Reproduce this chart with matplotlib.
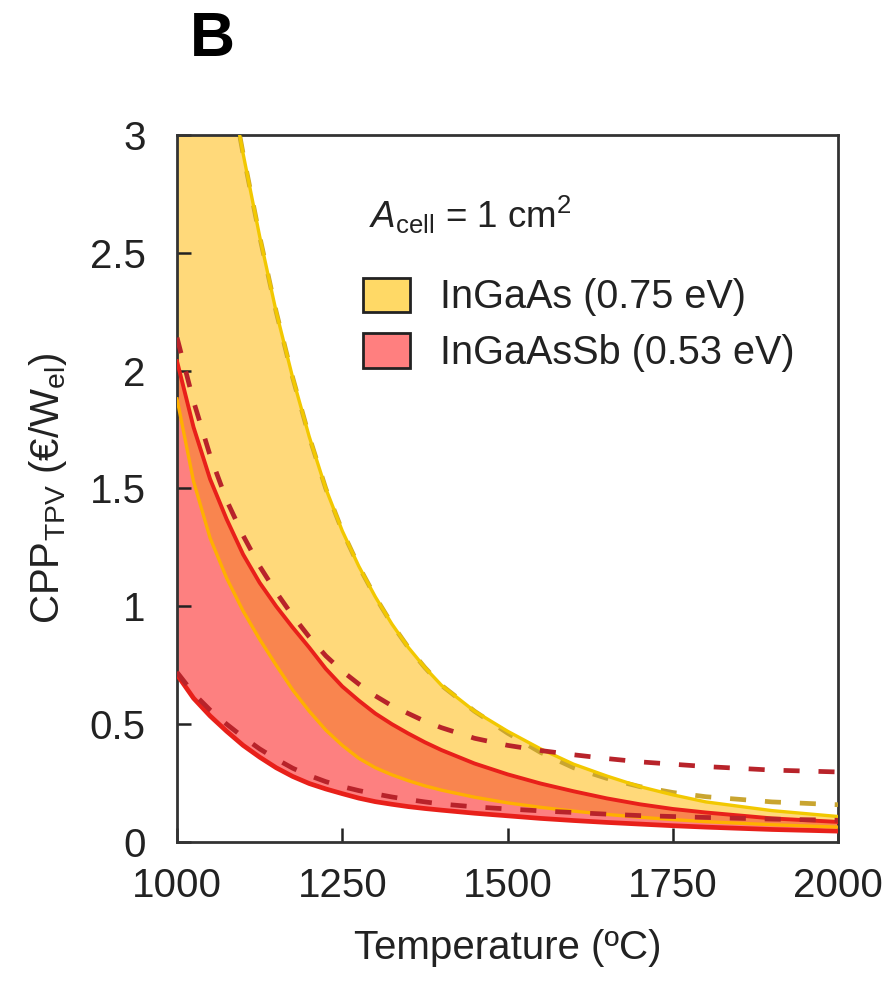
import numpy as np
import matplotlib
matplotlib.use("Agg")
import matplotlib.pyplot as plt
from matplotlib.patches import Patch

plt.rcParams['font.family'] = ['Liberation Sans', 'DejaVu Sans']
plt.rcParams['mathtext.fontset'] = 'custom'
plt.rcParams['mathtext.rm'] = 'Liberation Sans'
plt.rcParams['mathtext.it'] = 'Liberation Sans:italic'

# ---- data ----
temperature = [1000, 1025, 1050, 1075, 1100, 1125, 1150, 1175, 1200, 1225,
               1250, 1275, 1300, 1325, 1350, 1375, 1400, 1450, 1500, 1550,
               1600, 1650, 1700, 1750, 1800, 1900, 2000]

ingaas_upper = [5.0, 4.35, 3.8, 3.3, 2.92, 2.57, 2.25, 1.97, 1.72, 1.50,
                1.32, 1.17, 1.04, 0.925, 0.825, 0.74, 0.665, 0.555, 0.47, 0.395,
                0.33, 0.28, 0.235, 0.20, 0.17, 0.133, 0.108]
ingaas_lower = [1.88, 1.53, 1.29, 1.12, 0.98, 0.86, 0.75, 0.645, 0.555, 0.475,
                0.41, 0.355, 0.315, 0.285, 0.26, 0.238, 0.22, 0.19, 0.166, 0.147,
                0.131, 0.117, 0.105, 0.095, 0.086, 0.073, 0.063]
ingaas_dashed = [5.0, 4.35, 3.8, 3.3, 2.92, 2.57, 2.25, 1.97, 1.72, 1.50,
                 1.32, 1.17, 1.04, 0.925, 0.825, 0.74, 0.665, 0.555, 0.462, 0.38,
                 0.315, 0.27, 0.235, 0.21, 0.192, 0.17, 0.158]

ingaassb_upper = [2.04, 1.76, 1.54, 1.37, 1.22, 1.10, 1.0, 0.91, 0.825, 0.735,
                  0.66, 0.60, 0.545, 0.50, 0.46, 0.423, 0.39, 0.333, 0.287, 0.248,
                  0.215, 0.185, 0.16, 0.14, 0.125, 0.10, 0.085]
ingaassb_lower = [0.71, 0.61, 0.535, 0.47, 0.41, 0.36, 0.315, 0.278, 0.248, 0.225,
                  0.205, 0.186, 0.171, 0.16, 0.15, 0.142, 0.135, 0.122, 0.111, 0.10,
                  0.091, 0.083, 0.076, 0.069, 0.063, 0.053, 0.046]
ingaassb_dashed_upper = [2.14, 1.87, 1.64, 1.45, 1.30, 1.17, 1.06, 0.96, 0.87, 0.79,
                         0.725, 0.67, 0.62, 0.578, 0.545, 0.512, 0.485, 0.44, 0.41, 0.388,
                         0.37, 0.354, 0.34, 0.33, 0.32, 0.305, 0.297]
ingaassb_dashed_lower = [0.72, 0.63, 0.56, 0.50, 0.445, 0.395, 0.352, 0.313, 0.282, 0.256,
                         0.235, 0.218, 0.204, 0.191, 0.18, 0.17, 0.161, 0.149, 0.14, 0.132,
                         0.125, 0.118, 0.112, 0.108, 0.104, 0.097, 0.092]

legend_labels = ['InGaAs (0.75 eV)', 'InGaAsSb (0.53 eV)']
x_ticks = [1000, 1250, 1500, 1750, 2000]
y_ticks = [0, 0.5, 1, 1.5, 2, 2.5, 3]
y_tick_labels = ['0', '0.5', '1', '1.5', '2', '2.5', '3']

# ---- colours ----
c_yellow_fill = '#FFD97A'
c_pink_fill = '#FD8080'
c_overlap_fill = '#F9854F'
c_yellow_line = '#F2C800'
c_orange_line = '#FFB000'
c_red_line = '#E8201A'
c_red_dash = '#B8232A'
c_yellow_dash = '#C9A530'

T = np.array(temperature)
ya_u = np.array(ingaas_upper)
ya_l = np.array(ingaas_lower)
yb_u = np.array(ingaassb_upper)
yb_l = np.array(ingaassb_lower)

fig = plt.figure(figsize=(8.94, 9.82), dpi=100)
ax = fig.add_axes([0.198, 0.1426, 0.7394, 0.720])

ax.fill_between(T, yb_l, yb_u, color=c_pink_fill, lw=0, zorder=1)
ax.fill_between(T, ya_l, ya_u, color=c_yellow_fill, lw=0, zorder=1)
ov_lo = np.maximum(ya_l, yb_l)
ov_hi = np.minimum(ya_u, yb_u)
ax.fill_between(T, ov_lo, ov_hi, where=ov_hi > ov_lo, interpolate=True,
                color=c_overlap_fill, lw=0, zorder=2)

dash = (0, (3.4, 4.0))
ax.plot(T, ingaas_dashed, color=c_yellow_dash, lw=3.4, ls=dash, zorder=3)
ax.plot(T, yb_l, color=c_red_line, lw=3.4, zorder=4)
ax.plot(T, yb_u, color=c_red_line, lw=2.8, zorder=4)
ax.plot(T, ya_l, color=c_orange_line, lw=2.4, zorder=4)
ax.plot(T, ya_u, color=c_yellow_line, lw=2.4, zorder=4)
ax.plot(T, ingaassb_dashed_upper, color=c_red_dash, lw=3.4, ls=dash, zorder=5)
ax.plot(T, ingaassb_dashed_lower, color=c_red_dash, lw=3.4, ls=dash, zorder=5)

ax.set_xlim(1000, 2000)
ax.set_ylim(0, 3)
ax.set_xticks(x_ticks)
ax.set_yticks(y_ticks)
ax.set_yticklabels(y_tick_labels)
ax.tick_params(direction='in', length=10, width=1.8, labelsize=29,
               colors='#222222', top=False, right=False)
ax.tick_params(axis='x', pad=18)
ax.tick_params(axis='y', pad=22.5)
for s in ax.spines.values():
    s.set_linewidth(2.0)
    s.set_color('#333333')

ax.set_xlabel('Temperature (ºC)', fontsize=29, color='#222222', labelpad=17)
ax.set_ylabel(r'CPP$_{\mathregular{TPV}}$ (€/W$_{\mathregular{el}}$)', fontsize=29,
              color='#222222', labelpad=15)

ax.text(0.29, 0.887, r'$\mathit{A}_{\mathregular{cell}}$ = 1 cm$^{\mathregular{2}}$',
        transform=ax.transAxes, fontsize=26.5, color='#222222', va='center', ha='left')

handles = [Patch(facecolor='#FFD966', edgecolor='#222222', lw=2.0),
           Patch(facecolor='#FF7F7F', edgecolor='#222222', lw=2.0)]
ax.legend(handles, legend_labels, loc='upper left', bbox_to_anchor=(0.281, 0.798),
          frameon=False, fontsize=28.5, handlelength=1.2, handleheight=0.95,
          handletextpad=0.75, labelspacing=0.43, borderaxespad=0, borderpad=0,
          labelcolor='#222222')

fig.text(0.237, 0.96, 'B', fontsize=45, fontweight='bold', ha='center', va='center')

fig.savefig('out.png', dpi=100)
